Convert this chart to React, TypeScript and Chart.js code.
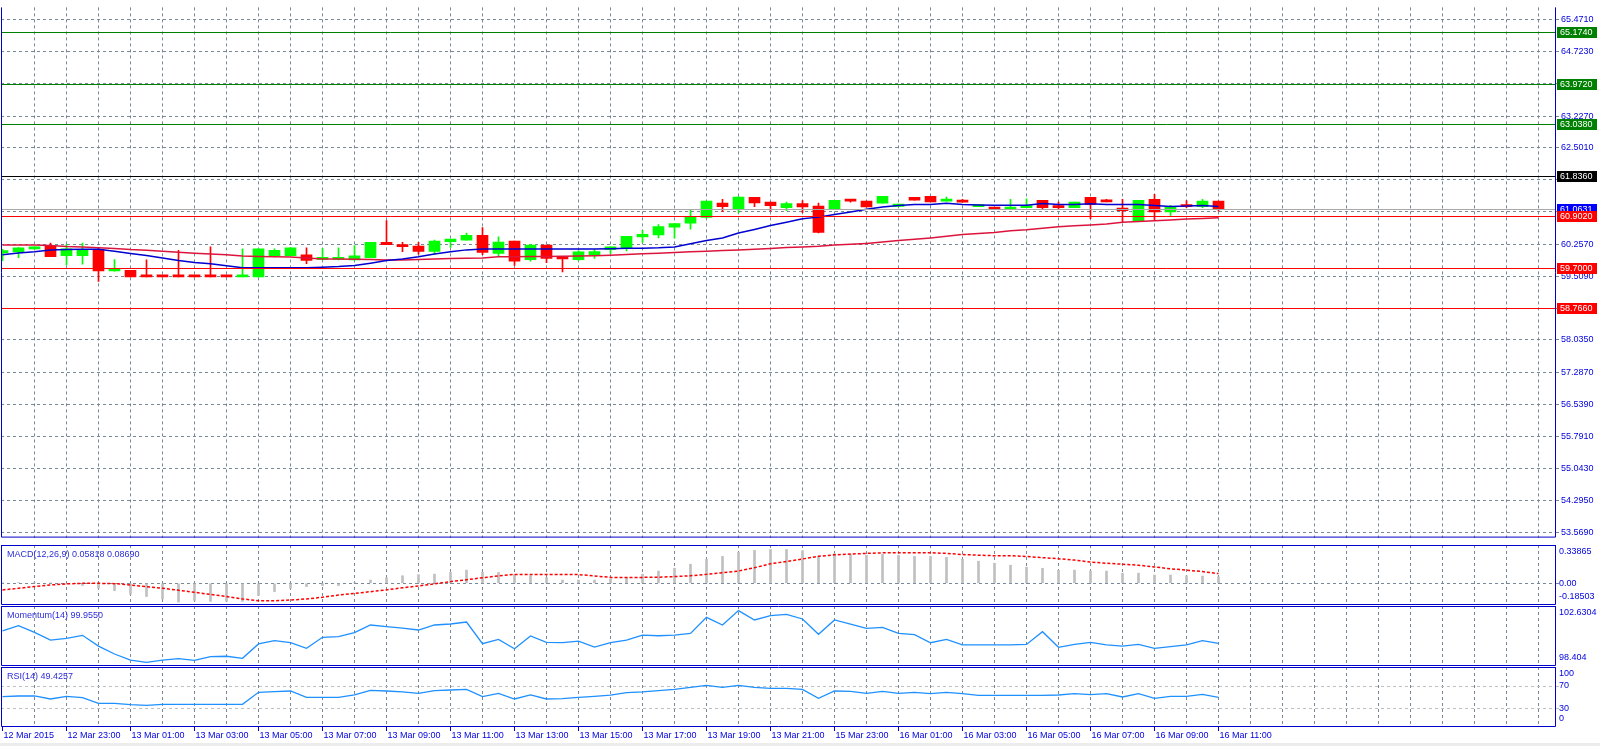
import React, { useEffect, useRef } from "react";
import { Chart, registerables } from "chart.js";

Chart.register(...registerables);

const FONT = "'Liberation Sans', Arial, sans-serif";
const TEXT_BLUE = "#0000e0";
const TITLE_BLUE = "#2c2cd8";
const FRAME_BLUE = "#0000cc";
const GRID = "#778899";
const BULL = "#00ff00";
const BEAR = "#ff0000";

// ---------- data ----------
const timeLabels = [
  "12 Mar 2015", "12 Mar 23:00", "13 Mar 01:00", "13 Mar 03:00", "13 Mar 05:00",
  "13 Mar 07:00", "13 Mar 09:00", "13 Mar 11:00", "13 Mar 13:00", "13 Mar 15:00",
  "13 Mar 17:00", "13 Mar 19:00", "13 Mar 21:00", "15 Mar 23:00", "16 Mar 01:00",
  "16 Mar 03:00", "16 Mar 05:00", "16 Mar 07:00", "16 Mar 09:00", "16 Mar 11:00",
];
const timeLabelBars = [0, 4, 8, 12, 16, 20, 24, 28, 32, 36, 40, 44, 48, 52, 56, 60, 64, 68, 72, 76];

const opens = [
  60.054, 60.076, 60.144, 60.205, 59.986, 59.986, 60.137, 59.635, 59.647, 59.5,
  59.5, 59.5, 59.5, 59.5, 59.5, 59.496, 59.496, 59.986, 59.986, 60.009,
  59.9, 59.9, 59.89, 59.94, 60.3, 60.235, 60.212, 60.084, 60.31, 60.348,
  60.461, 60.039, 60.325, 59.896, 60.235, 59.92, 59.896, 60.001, 60.129, 60.16,
  60.423, 60.468, 60.649, 60.74, 60.875, 61.207, 61.063, 61.342, 61.229, 61.1,
  61.199, 61.139, 61.071, 61.274, 61.252, 61.207, 61.131, 61.342, 61.365, 61.252,
  61.252, 61.124, 61.093, 61.071, 61.101, 61.274, 61.124, 61.101, 61.342, 61.274,
  61.093, 60.8, 61.297, 61.003, 61.161, 61.124, 61.252,
];
const highs = [
  60.137, 60.175, 60.2, 60.28, 60.25, 60.28, 60.16, 59.896, 59.647, 59.89,
  59.5, 60.114, 59.5, 60.19, 59.5, 60.144, 60.144, 60.144, 60.167, 60.17,
  60.16, 60.17, 60.22, 60.3, 60.8, 60.3, 60.295, 60.35, 60.37, 60.513,
  60.64, 60.423, 60.325, 60.25, 60.235, 59.964, 60.1, 60.13, 60.19, 60.438,
  60.574, 60.71, 60.732, 61.056, 61.252, 61.297, 61.357, 61.342, 61.229, 61.229,
  61.267, 61.207, 61.274, 61.274, 61.252, 61.365, 61.184, 61.342, 61.365, 61.35,
  61.297, 61.146, 61.093, 61.297, 61.305, 61.274, 61.23, 61.229, 61.342, 61.297,
  61.297, 61.274, 61.41, 61.154, 61.267, 61.297, 61.252,
];
const lows = [
  59.873, 59.94, 60.13, 59.964, 59.775, 59.79, 59.39, 59.63, 59.496, 59.496,
  59.496, 59.496, 59.496, 59.496, 59.496, 59.496, 59.496, 59.96, 59.986, 59.8,
  59.89, 59.89, 59.89, 59.94, 60.24, 60.08, 60.024, 60.024, 60.18, 60.348,
  60.01, 59.986, 59.76, 59.858, 59.828, 59.61, 59.87, 59.926, 60.039, 60.1,
  60.295, 60.4, 60.393, 60.604, 60.853, 61.01, 60.988, 61.124, 61.026, 61.033,
  60.988, 60.513, 61.07, 61.23, 61.116, 61.207, 61.131, 61.274, 61.237, 61.252,
  61.23, 61.124, 61.071, 61.071, 61.101, 61.071, 61.056, 61.101, 60.845, 61.237,
  60.777, 60.785, 60.822, 60.92, 61.101, 61.101, 61.018,
];
const closes = [
  60.107, 60.167, 60.19, 59.964, 60.144, 60.12, 59.632, 59.655, 59.496, 59.496,
  59.496, 59.496, 59.496, 59.496, 59.496, 59.5, 60.144, 60.114, 60.167, 59.88,
  59.92, 59.92, 59.986, 60.3, 60.24, 60.197, 60.084, 60.325, 60.37, 60.461,
  60.061, 60.303, 59.858, 60.235, 59.926, 59.911, 60.076, 60.084, 60.19, 60.438,
  60.483, 60.664, 60.732, 60.89, 61.252, 61.124, 61.35, 61.214, 61.146, 61.199,
  61.116, 60.528, 61.274, 61.252, 61.116, 61.365, 61.184, 61.274, 61.237, 61.297,
  61.23, 61.146, 61.071, 61.116, 61.124, 61.101, 61.101, 61.229, 61.169, 61.237,
  61.033, 61.274, 61.003, 61.116, 61.124, 61.252, 61.063,
];
const maFast = [
  60.01, 60.05, 60.08, 60.12, 60.13, 60.135, 60.137, 60.09, 60.04, 59.99,
  59.934, 59.873, 59.83, 59.8, 59.753, 59.707, 59.707, 59.707, 59.707, 59.707,
  59.72, 59.735, 59.76, 59.813, 59.873, 59.911, 59.963, 60.024, 60.077, 60.122,
  60.144, 60.144, 60.144, 60.144, 60.144, 60.144, 60.144, 60.144, 60.15, 60.16,
  60.16, 60.17, 60.19, 60.265, 60.34, 60.4, 60.513, 60.596, 60.687, 60.762,
  60.845, 60.882, 60.943, 61.003, 61.063, 61.116, 61.154, 61.176, 61.176, 61.206,
  61.176, 61.165, 61.16, 61.16, 61.16, 61.2, 61.176, 61.176, 61.19, 61.176,
  61.176, 61.176, 61.154, 61.131, 61.138, 61.154, 61.131,
];
const maSlow = [
  60.235, 60.235, 60.235, 60.225, 60.2, 60.19, 60.174, 60.155, 60.13, 60.114,
  60.09, 60.069, 60.046, 60.024, 60.01, 59.98, 59.97, 59.965, 59.956, 59.934,
  59.911, 59.911, 59.903, 59.896, 59.888, 59.888, 59.9, 59.911, 59.92, 59.93,
  59.933, 59.963, 59.965, 59.968, 59.97, 59.975, 59.98, 59.986, 60.0, 60.016,
  60.03, 60.046, 60.06, 60.077, 60.09, 60.107, 60.12, 60.137, 60.155, 60.175,
  60.19, 60.205, 60.235, 60.25, 60.272, 60.302, 60.34, 60.37, 60.4, 60.438,
  60.476, 60.5, 60.528, 60.566, 60.59, 60.626, 60.657, 60.68, 60.702, 60.724,
  60.762, 60.78, 60.8, 60.815, 60.838, 60.852, 60.867,
];
const macdMain = [
  0.004, 0.006, 0.006, 0.003, -0.008, -0.02, -0.044, -0.065, -0.097, -0.118,
  -0.141, -0.168, -0.153, -0.162, -0.162, -0.162, -0.109, -0.074, -0.044, -0.029,
  -0.02, -0.02, 0.005, 0.029, 0.05, 0.068, 0.077, 0.082, 0.097, 0.118,
  0.1, 0.097, 0.077, 0.068, 0.05, 0.029, 0.029, 0.029, 0.038, 0.053,
  0.082, 0.109, 0.135, 0.171, 0.215, 0.241, 0.277, 0.295, 0.303, 0.303,
  0.292, 0.244, 0.265, 0.259, 0.25, 0.259, 0.25, 0.241, 0.241, 0.233,
  0.215, 0.198, 0.18, 0.162, 0.144, 0.135, 0.118, 0.118, 0.109, 0.109,
  0.091, 0.091, 0.074, 0.074, 0.065, 0.065, 0.058,
];
const macdSignal = [
  -0.059, -0.045, -0.029, -0.015, -0.005, 0.0, 0.0, -0.003, -0.015, -0.03,
  -0.044, -0.062, -0.08, -0.1, -0.118, -0.14, -0.156, -0.156, -0.15, -0.14,
  -0.125, -0.105, -0.09, -0.075, -0.059, -0.04, -0.024, -0.005, 0.015, 0.032,
  0.05, 0.066, 0.08, 0.08, 0.08, 0.08, 0.078, 0.066, 0.053, 0.053,
  0.053, 0.055, 0.06, 0.068, 0.08, 0.094, 0.11, 0.14, 0.175, 0.196,
  0.218, 0.242, 0.255, 0.262, 0.268, 0.273, 0.274, 0.274, 0.274, 0.268,
  0.258, 0.252, 0.247, 0.247, 0.24, 0.23, 0.22, 0.208, 0.19, 0.18,
  0.171, 0.162, 0.147, 0.13, 0.118, 0.105, 0.087,
];
const momentum = [
  100.84, 101.22, 100.74, 100.19, 100.31, 100.53, 99.76, 99.19, 98.76, 98.595,
  98.76, 98.86, 98.74, 99.0, 99.03, 98.88, 99.91, 100.15, 100.0, 99.6,
  100.39, 100.43, 100.72, 101.27, 101.15, 101.05, 100.91, 101.27, 101.34, 101.48,
  99.93, 100.24, 99.57, 100.48, 100.03, 100.0, 100.12, 99.69, 100.0, 100.19,
  100.55, 100.5, 100.55, 100.67, 101.82, 101.27, 102.3, 101.63, 101.94, 102.03,
  101.7, 100.6, 101.63, 101.34, 101.03, 101.1, 100.67, 100.58, 100.0, 100.24,
  99.84, 99.84, 99.84, 99.84, 99.88, 100.79, 99.67, 99.88, 100.03, 99.84,
  99.76, 99.88, 99.6, 99.72, 99.84, 100.15, 99.955,
];
const rsi = [
  50.9, 52.1, 52.1, 46.7, 51.5, 49.1, 39.0, 39.0, 36.6, 35.4,
  37.2, 37.2, 37.2, 37.2, 37.2, 37.2, 58.7, 59.9, 61.0, 49.7,
  49.7, 49.7, 53.9, 62.2, 61.0, 59.3, 56.9, 61.6, 62.8, 64.0,
  50.9, 56.9, 46.7, 53.9, 46.7, 47.3, 49.7, 51.5, 53.6, 58.1,
  59.3, 61.6, 64.0, 67.6, 71.2, 67.6, 71.2, 67.6, 65.8, 65.8,
  64.0, 47.9, 61.0, 60.4, 56.9, 60.4, 56.9, 58.7, 56.3, 58.7,
  56.3, 53.3, 53.3, 53.3, 53.3, 53.3, 53.9, 56.3, 54.5, 56.3,
  50.3, 56.3, 47.9, 51.5, 51.5, 55.1, 49.43,
];

const priceTicks = [
  65.471, 64.723, 63.975, 63.227, 62.501, 61.753, 61.005, 60.257, 59.509,
  58.761, 58.035, 57.287, 56.539, 55.791, 55.043, 54.295, 53.569,
];
const resistanceLevels = [65.174, 63.972, 63.038];
const pivotLevel = 61.836;
const bidPrice = 61.0631;
const supportLevels = [60.902, 59.7, 58.766];

const macdAxisLabels = [
  { text: "0.33865", value: 0.33865 },
  { text: "0.00", value: 0 },
  { text: "-0.18503", value: -0.18503 },
];
const momAxisLabels = [
  { text: "102.6304", value: 102.6304 },
  { text: "98.404", value: 98.404 },
];
const rsiAxisLabels = [
  { text: "100", value: 100 },
  { text: "70", value: 70 },
  { text: "30", value: 30 },
  { text: "0", value: 0 },
];

// ---------- scale ranges ----------
const X_MIN = -0.09375;
const X_MAX = 97.03125;
const gridBars: number[] = [];
for (let b = 2; b <= 96; b += 2) gridBars.push(b);

Chart.defaults.font.family = FONT;
Chart.defaults.font.size = 9;

function xScale() {
  return {
    type: "linear",
    min: X_MIN,
    max: X_MAX,
    offset: false,
    afterBuildTicks: (s: any) => {
      s.ticks = gridBars.map((v) => ({ value: v }));
    },
    ticks: { display: false },
    grid: { color: GRID, drawTicks: false, offset: false },
    border: { display: false, dash: [3, 3] },
    afterFit: (s: any) => {
      s.height = 0;
    },
  };
}

function framePlugin(drawTop: boolean) {
  return {
    id: "frame",
    afterDraw(chart: any) {
      const { ctx, chartArea: a } = chart;
      ctx.save();
      ctx.strokeStyle = FRAME_BLUE;
      ctx.lineWidth = 1;
      const l = a.left + 0.5;
      const r = a.right + 0.5;
      const t = a.top + 0.5;
      const b = a.bottom - 0.5;
      ctx.beginPath();
      if (drawTop) {
        ctx.moveTo(l, t);
        ctx.lineTo(r, t);
      }
      ctx.moveTo(l, a.top);
      ctx.lineTo(l, b);
      ctx.lineTo(r, b);
      ctx.lineTo(r, a.top);
      ctx.stroke();
      ctx.restore();
    },
  };
}

function panelTextPlugin(title: string, labels: { text: string; value: number }[]) {
  return {
    id: "panelText",
    afterDraw(chart: any) {
      const { ctx, chartArea: a, scales } = chart;
      ctx.save();
      ctx.font = `9px ${FONT}`;
      ctx.textBaseline = "middle";
      ctx.textAlign = "left";
      ctx.fillStyle = TEXT_BLUE;
      for (const l of labels) {
        let y = scales.y.getPixelForValue(l.value);
        y = Math.min(Math.max(y, a.top + 7), a.bottom - 8);
        ctx.fillText(l.text, a.right + 4, y);
      }
      ctx.fillStyle = TITLE_BLUE;
      ctx.fillText(title, a.left + 6, a.top + 10);
      ctx.restore();
    },
  };
}

const levelPlugin = {
  id: "levels",
  afterDatasetsDraw(chart: any) {
    const { ctx, chartArea: a, scales } = chart;
    const line = (v: number, c: string) => {
      const y = Math.round(scales.y.getPixelForValue(v)) + 0.5;
      ctx.strokeStyle = c;
      ctx.beginPath();
      ctx.moveTo(a.left + 1, y);
      ctx.lineTo(a.right, y);
      ctx.stroke();
    };
    ctx.save();
    ctx.lineWidth = 1;
    line(bidPrice, "#a8a8a8");
    resistanceLevels.forEach((v) => line(v, "#008000"));
    line(pivotLevel, "#000000");
    supportLevels.forEach((v) => line(v, "#ff0000"));
    ctx.restore();
  },
  afterDraw(chart: any) {
    const { ctx, chartArea: a, scales } = chart;
    const tag = (v: number, bg: string) => {
      const y = Math.round(scales.y.getPixelForValue(v));
      ctx.fillStyle = bg;
      ctx.fillRect(a.right + 2, y - 5, 40, 11);
      ctx.fillStyle = "#ffffff";
      ctx.fillText(v.toFixed(4), a.right + 5, y + 0.5);
    };
    ctx.save();
    ctx.font = `9px ${FONT}`;
    ctx.textBaseline = "middle";
    ctx.textAlign = "left";
    resistanceLevels.forEach((v) => tag(v, "#008000"));
    tag(pivotLevel, "#000000");
    tag(bidPrice, "#0000ff");
    supportLevels.forEach((v) => tag(v, "#ff0000"));
    ctx.restore();
  },
};

const timeAxisPlugin = {
  id: "timeAxis",
  afterDraw(chart: any) {
    const { ctx, chartArea: a, scales } = chart;
    ctx.save();
    ctx.font = `9px ${FONT}`;
    ctx.textBaseline = "middle";
    ctx.textAlign = "left";
    ctx.fillStyle = TEXT_BLUE;
    ctx.strokeStyle = FRAME_BLUE;
    ctx.lineWidth = 1;
    timeLabels.forEach((t, k) => {
      const x = scales.x.getPixelForValue(timeLabelBars[k]);
      const xr = Math.floor(x) + 0.5;
      ctx.beginPath();
      ctx.moveTo(xr, a.bottom);
      ctx.lineTo(xr, a.bottom + 4);
      ctx.stroke();
      ctx.fillText(t, xr + 1, a.bottom + 9);
    });
    ctx.restore();
  },
};

const idx = closes.map((_, i) => i);
const candleColors = idx.map((i) => (closes[i] > opens[i] ? BULL : BEAR));

const common = {
  type: "bar",
  options: {
    responsive: false,
    animation: false,
    devicePixelRatio: 1,
    events: [],
    plugins: { legend: { display: false }, tooltip: { enabled: false } },
  },
};

function yRight(min: number, max: number, extra: any) {
  return {
    type: "linear",
    position: "right",
    min,
    max,
    afterFit: (s: any) => {
      s.width = 45;
    },
    ...extra,
  };
}

function mainConfig(): any {
  return {
    type: "bar",
    data: {
      datasets: [
        {
          type: "line",
          data: idx.map((i) => ({ x: i, y: maFast[i] })),
          borderColor: "#0000d0",
          borderWidth: 1.5,
          pointRadius: 0,
          tension: 0,
          order: 1,
        },
        {
          type: "line",
          data: idx.map((i) => ({ x: i, y: maSlow[i] })),
          borderColor: "#dc143c",
          borderWidth: 1.5,
          pointRadius: 0,
          tension: 0,
          order: 2,
        },
        {
          type: "bar",
          data: idx.map((i) => ({ x: i, y: [Math.min(opens[i], closes[i]), Math.max(opens[i], closes[i])] })),
          backgroundColor: candleColors,
          barThickness: 11,
          minBarLength: 2,
          grouped: false,
          borderWidth: 0,
          order: 3,
        },
        {
          type: "bar",
          data: idx.map((i) => ({ x: i, y: [lows[i], highs[i]] })),
          backgroundColor: candleColors,
          barThickness: 1,
          minBarLength: 1,
          grouped: false,
          borderWidth: 0,
          order: 4,
        },
      ],
    },
    options: {
      ...common.options,
      layout: { padding: { left: 1, right: 0, top: 0, bottom: 0 } },
      scales: {
        x: xScale(),
        y: yRight(53.445, 65.749, {
          afterBuildTicks: (s: any) => {
            s.ticks = priceTicks.map((v) => ({ value: v }));
          },
          ticks: {
            autoSkip: false,
            color: TEXT_BLUE,
            padding: 2,
            font: { size: 9, family: FONT },
            callback: (v: any) => Number(v).toFixed(4),
          },
          grid: { color: GRID, tickLength: 4, tickColor: GRID },
          border: { display: false, dash: [3, 3] },
        }),
      },
    },
    plugins: [levelPlugin, framePlugin(false)],
  };
}

function macdConfig(): any {
  return {
    type: "bar",
    data: {
      datasets: [
        {
          type: "line",
          data: idx.map((i) => ({ x: i, y: macdSignal[i] })),
          borderColor: "#ff0000",
          borderWidth: 1.5,
          borderDash: [3, 2],
          pointRadius: 0,
          tension: 0,
          order: 1,
        },
        {
          type: "bar",
          data: idx.map((i) => ({ x: i, y: macdMain[i] })),
          backgroundColor: "#c0c0c0",
          barThickness: 2,
          grouped: false,
          borderWidth: 0,
          order: 2,
        },
      ],
    },
    options: {
      ...common.options,
      layout: { padding: { left: 1, right: 0, top: 0, bottom: 0 } },
      scales: {
        x: xScale(),
        y: yRight(-0.1944, 0.3432, {
          afterBuildTicks: (s: any) => {
            s.ticks = [{ value: 0 }];
          },
          ticks: { display: false },
          grid: { color: GRID, tickLength: 4, tickColor: GRID },
          border: { display: false, dash: [3, 3] },
        }),
      },
    },
    plugins: [framePlugin(true), panelTextPlugin("MACD(12,26,9) 0.05818 0.08690", macdAxisLabels)],
  };
}

function lineConfig(values: number[], min: number, max: number, yExtra: any, title: string, labels: any[], extraPlugins: any[], bottomPad: number): any {
  return {
    type: "line",
    data: {
      datasets: [
        {
          data: idx.map((i) => ({ x: i, y: values[i] })),
          borderColor: "#1e90ff",
          borderWidth: 1.3,
          pointRadius: 0,
          tension: 0,
        },
      ],
    },
    options: {
      ...common.options,
      layout: { padding: { left: 1, right: 0, top: 0, bottom: bottomPad } },
      scales: {
        x: xScale(),
        y: yRight(min, max, yExtra),
      },
    },
    plugins: [framePlugin(true), panelTextPlugin(title, labels), ...extraPlugins],
  };
}

export default function App() {
  const mainRef = useRef<HTMLCanvasElement>(null);
  const macdRef = useRef<HTMLCanvasElement>(null);
  const momRef = useRef<HTMLCanvasElement>(null);
  const rsiRef = useRef<HTMLCanvasElement>(null);

  useEffect(() => {
    const charts: Chart[] = [];
    charts.push(new Chart(mainRef.current as HTMLCanvasElement, mainConfig()));
    charts.push(new Chart(macdRef.current as HTMLCanvasElement, macdConfig()));
    charts.push(
      new Chart(
        momRef.current as HTMLCanvasElement,
        lineConfig(
          momentum,
          98.332,
          102.6304,
          { ticks: { display: false }, grid: { display: false }, border: { display: false } },
          "Momentum(14) 99.9550",
          momAxisLabels,
          [],
          0
        )
      )
    );
    charts.push(
      new Chart(
        rsiRef.current as HTMLCanvasElement,
        lineConfig(
          rsi,
          -3.54,
          104.08,
          {
            afterBuildTicks: (s: any) => {
              s.ticks = [{ value: 70 }, { value: 30 }];
            },
            ticks: { display: false },
            grid: { color: "#c0c0c0", tickLength: 4, tickColor: "#c0c0c0" },
            border: { display: false, dash: [3, 3] },
          },
          "RSI(14) 49.4257",
          rsiAxisLabels,
          [timeAxisPlugin],
          19
        )
      )
    );
    return () => charts.forEach((c) => c.destroy());
  }, []);

  const abs = (top: number): React.CSSProperties => ({ position: "absolute", left: 0, top });

  return (
    <div style={{ position: "fixed", left: 0, top: 0, width: 1600, height: 746, background: "#ffffff", overflow: "hidden" }}>
      <canvas ref={mainRef} width={1600} height={545} style={abs(0)} />
      <canvas ref={macdRef} width={1600} height={60} style={abs(545)} />
      <canvas ref={momRef} width={1600} height={60} style={abs(606)} />
      <canvas ref={rsiRef} width={1600} height={79} style={abs(667)} />
      <div style={{ position: "absolute", left: 0, top: 743, width: 1600, height: 3, background: "#ececec" }} />
    </div>
  );
}
